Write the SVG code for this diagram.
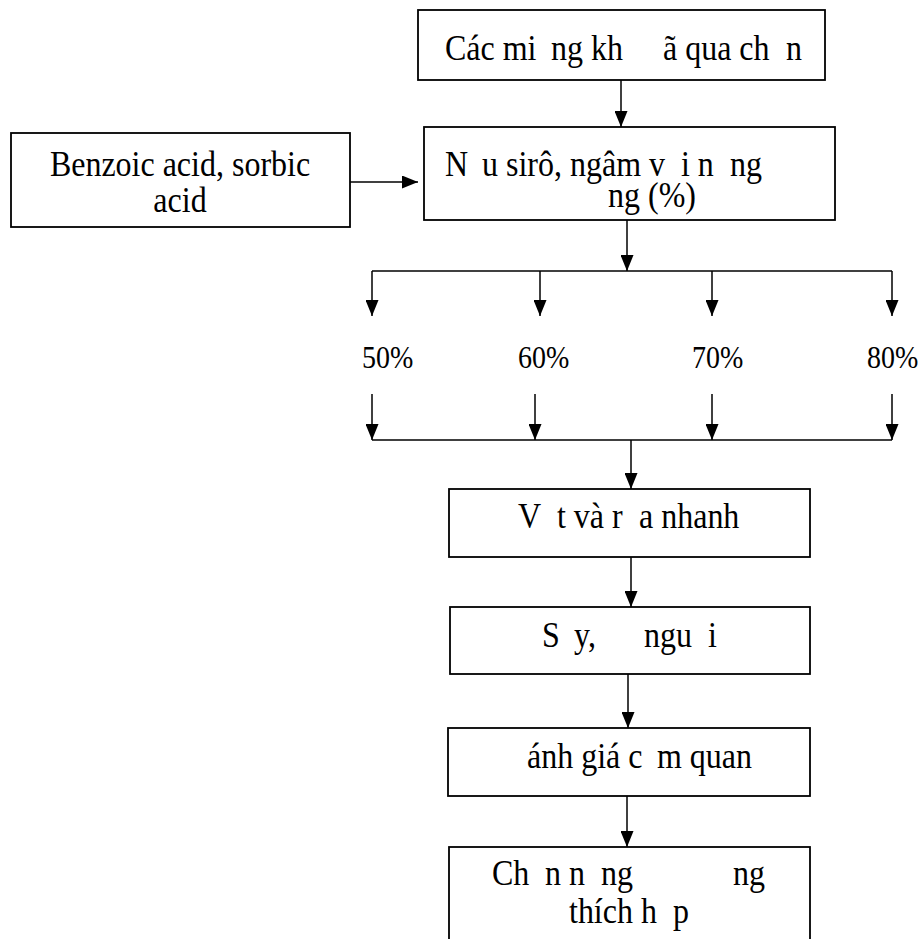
<svg xmlns="http://www.w3.org/2000/svg" width="923" height="939" viewBox="0 0 923 939">
  <defs>
    <marker id="arrow" viewBox="0 0 16 13" refX="16" refY="6.5" markerWidth="16" markerHeight="13" markerUnits="userSpaceOnUse" orient="auto">
      <path d="M0,0 L16,6.5 L0,13 Z" fill="#000"/>
    </marker>
    <style>
      .box { fill: #fff; stroke: #000; stroke-width: 1.8; }
      .t { font-family: "Liberation Serif", "Times New Roman", serif; font-size: 32px; fill: #000; }
      .p { font-family: "Liberation Serif", "Times New Roman", serif; font-size: 28px; fill: #000; }
      .ln { fill: none; stroke: #000; stroke-width: 1.5; }
    </style>
  </defs>
  <rect width="923" height="939" fill="#fff"/>

  <!-- connectors: main flow, side input, split into four concentrations and merge -->
  <g id="connectors">
    <line class="ln" x1="621" y1="80" x2="621" y2="127" marker-end="url(#arrow)"/>
    <line class="ln" x1="350" y1="182" x2="418" y2="182" marker-end="url(#arrow)"/>
    <line class="ln" x1="627" y1="220" x2="627" y2="271" marker-end="url(#arrow)"/>
    <line class="ln" x1="372" y1="271" x2="892" y2="271"/>
    <line class="ln" x1="372" y1="271" x2="372" y2="316" marker-end="url(#arrow)"/>
    <line class="ln" x1="540" y1="271" x2="540" y2="316" marker-end="url(#arrow)"/>
    <line class="ln" x1="712" y1="271" x2="712" y2="316" marker-end="url(#arrow)"/>
    <line class="ln" x1="892" y1="271" x2="892" y2="316" marker-end="url(#arrow)"/>
    <line class="ln" x1="372" y1="394" x2="372" y2="440" marker-end="url(#arrow)"/>
    <line class="ln" x1="535" y1="394" x2="535" y2="440" marker-end="url(#arrow)"/>
    <line class="ln" x1="712" y1="394" x2="712" y2="440" marker-end="url(#arrow)"/>
    <line class="ln" x1="892" y1="394" x2="892" y2="440" marker-end="url(#arrow)"/>
    <line class="ln" x1="372" y1="440" x2="892" y2="440"/>
    <line class="ln" x1="631" y1="440" x2="631" y2="489" marker-end="url(#arrow)"/>
    <line class="ln" x1="631" y1="557" x2="631" y2="607" marker-end="url(#arrow)"/>
    <line class="ln" x1="628" y1="674" x2="628" y2="728" marker-end="url(#arrow)"/>
    <line class="ln" x1="627" y1="796" x2="627" y2="847" marker-end="url(#arrow)"/>
  </g>

  <g id="node-chon">
    <rect class="box" x="418" y="10" width="407" height="70"/>
    <text class="t" transform="translate(0,60) scale(1,1.15)"><tspan x="445">Các mi</tspan><tspan x="551">ng kh</tspan><tspan x="663">ã qua ch</tspan><tspan x="786">n</tspan></text>
  </g>

  <g id="node-benzoic">
    <rect class="box" x="11" y="133" width="339" height="94"/>
    <text class="t" text-anchor="middle" transform="translate(180,176) scale(1,1.15)">Benzoic acid, sorbic</text>
    <text class="t" text-anchor="middle" transform="translate(180,212) scale(1,1.15)">acid</text>
  </g>

  <g id="node-nau">
    <rect class="box" x="424" y="127" width="411" height="93"/>
    <text class="t" transform="translate(0,176) scale(1,1.15)"><tspan x="445">N</tspan><tspan x="482">u sirô, ngâm v</tspan><tspan x="681">i n</tspan><tspan x="730">ng</tspan></text>
    <text class="t" transform="translate(608,207) scale(1,1.15)">ng (%)</text>
  </g>

  <g id="node-percent">
    <text class="p" transform="translate(362,368) scale(1,1.15)">50%</text>
    <text class="p" transform="translate(518,368) scale(1,1.15)">60%</text>
    <text class="p" transform="translate(692,368) scale(1,1.15)">70%</text>
    <text class="p" transform="translate(867,368) scale(1,1.15)">80%</text>
  </g>

  <g id="node-vot">
    <rect class="box" x="449" y="489" width="361" height="68"/>
    <text class="t" transform="translate(0,528) scale(1,1.15)"><tspan x="518">V</tspan><tspan x="557">t và r</tspan><tspan x="639">a nhanh</tspan></text>
  </g>

  <g id="node-say">
    <rect class="box" x="450" y="607" width="360" height="67"/>
    <text class="t" transform="translate(0,647) scale(1,1.15)"><tspan x="542">S</tspan><tspan x="574">y,</tspan><tspan x="644">ngu</tspan><tspan x="708">i</tspan></text>
  </g>

  <g id="node-danhgia">
    <rect class="box" x="448" y="728" width="362" height="68"/>
    <text class="t" transform="translate(0,768) scale(1,1.15)"><tspan x="527">ánh giá c</tspan><tspan x="657">m quan</tspan></text>
  </g>

  <g id="node-chonnong">
    <rect class="box" x="449" y="847" width="361" height="110"/>
    <text class="t" transform="translate(0,885) scale(1,1.15)"><tspan x="492">Ch</tspan><tspan x="545">n n</tspan><tspan x="601">ng</tspan><tspan x="733">ng</tspan></text>
    <text class="t" transform="translate(0,923) scale(1,1.15)"><tspan x="569">thích h</tspan><tspan x="673">p</tspan></text>
  </g>
</svg>
